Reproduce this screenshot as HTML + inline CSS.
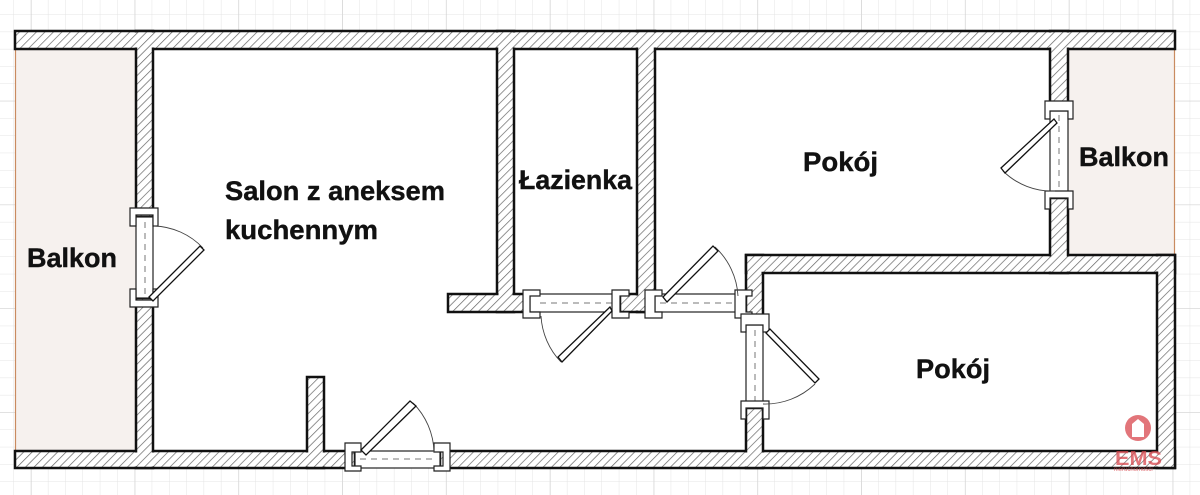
<!DOCTYPE html>
<html><head><meta charset="utf-8"><style>
html,body{margin:0;padding:0;background:#fff;}
svg{display:block;}
text{font-family:"Liberation Sans",sans-serif;font-weight:bold;font-size:27px;fill:#111;stroke:#111;stroke-width:0.4;}
</style></head><body>
<svg width="1200" height="495" viewBox="0 0 1200 495" xmlns="http://www.w3.org/2000/svg">
<defs>
<pattern id="g" width="17.3" height="17.3" patternUnits="userSpaceOnUse" x="-4" y="-3">
<path d="M0 0H17.3M0 0V17.3" stroke="#e4e4e4" stroke-width="1" fill="none"/>
</pattern>
<pattern id="G" width="103.8" height="103.8" patternUnits="userSpaceOnUse" x="31" y="-3">
<path d="M0 0H103.8M0 0V103.8" stroke="#cfcfcf" stroke-width="1" fill="none"/>
</pattern>
<pattern id="h" width="6" height="6" patternUnits="userSpaceOnUse" patternTransform="rotate(45)">
<rect width="6" height="6" fill="#fff"/>
<line x1="0" y1="0" x2="0" y2="6" stroke="#666" stroke-width="1.4"/>
</pattern>
</defs>
<rect width="1200" height="495" fill="url(#g)"/>
<rect width="1200" height="495" fill="url(#G)"/>
<rect x="15" y="31" width="1160" height="437" fill="#fff"/>
<rect x="15" y="49" width="121" height="402" fill="#f6f1ee"/>
<line x1="15.5" y1="49" x2="15.5" y2="451" stroke="#c98b60" stroke-width="1.2"/>
<rect x="1068" y="49" width="107" height="206" fill="#f6f1ee"/>
<line x1="1174.5" y1="49" x2="1174.5" y2="255" stroke="#c98b60" stroke-width="1.2"/>

<g stroke="#111" stroke-width="2.5" fill="url(#h)">
<rect x="15" y="31" width="1160" height="18"/>
<rect x="15" y="451" width="340" height="17"/>
<rect x="440" y="451" width="735" height="17"/>
<rect x="136" y="31" width="17" height="186"/>
<rect x="136" y="298" width="17" height="170"/>
<rect x="307" y="377" width="17" height="91"/>
<rect x="497" y="31" width="17" height="281"/>
<rect x="448" y="294" width="82" height="18"/>
<rect x="620" y="294" width="35" height="18"/>
<rect x="637" y="31" width="18" height="281"/>
<rect x="746" y="255" width="17" height="70"/>
<rect x="746" y="255" width="429" height="18"/>
<rect x="746" y="408" width="17" height="60"/>
<rect x="1157" y="255" width="18" height="213"/>
<rect x="1050" y="31" width="18" height="80"/>
<rect x="1050" y="198" width="18" height="75"/>
</g>
<g fill="url(#h)">
<rect x="16.5" y="32.5" width="1157" height="15"/>
<rect x="16.5" y="452.5" width="337" height="14"/>
<rect x="441.5" y="452.5" width="732" height="14"/>
<rect x="137.5" y="32.5" width="14" height="183"/>
<rect x="137.5" y="299.5" width="14" height="167"/>
<rect x="308.5" y="378.5" width="14" height="88"/>
<rect x="498.5" y="32.5" width="14" height="278"/>
<rect x="449.5" y="295.5" width="79" height="15"/>
<rect x="621.5" y="295.5" width="32" height="15"/>
<rect x="638.5" y="32.5" width="15" height="278"/>
<rect x="747.5" y="256.5" width="14" height="67"/>
<rect x="747.5" y="256.5" width="426" height="15"/>
<rect x="747.5" y="409.5" width="14" height="57"/>
<rect x="1158.5" y="256.5" width="15" height="210"/>
<rect x="1051.5" y="32.5" width="15" height="77"/>
<rect x="1051.5" y="199.5" width="15" height="72"/>
</g>

<g stroke="#222" stroke-width="1.2" fill="#fff">
<rect x="136" y="217" width="17" height="81"/>
<rect x="355" y="451" width="85" height="17"/>
<rect x="530" y="294" width="90" height="18"/>
<rect x="655" y="294" width="91" height="18"/>
<rect x="746" y="325" width="17" height="83"/>
<rect x="1050" y="111" width="18" height="87"/>
</g>
<g stroke="#777" stroke-width="1" stroke-dasharray="6,5" fill="none">
<line x1="145" y1="222" x2="145" y2="294"/>
<line x1="360" y1="459" x2="436" y2="459"/>
<line x1="540" y1="303" x2="612" y2="303"/>
<line x1="660" y1="303" x2="742" y2="303"/>
<line x1="755" y1="330" x2="755" y2="404"/>
<line x1="1059" y1="115" x2="1059" y2="194"/>
</g>
<!-- jambs (U shapes) -->
<g stroke="#222" stroke-width="1.2" fill="#fff">
<path d="M130 208H158V226H153V215H136V226H130Z"/>
<path d="M130 307H158V289H153V300H136V289H130Z"/>
<path d="M345 443V471H361V466H352V452H361V443Z"/>
<path d="M450 443V471H434V466H443V452H434V443Z"/>
<path d="M540 290H523V318H540V312H530V296H540Z"/>
<path d="M612 290H629V296H620V312H629V318H612Z"/>
<path d="M662 290H645V318H662V312H655V296H662Z"/>
<path d="M735 290H752V296H746V312H752V318H735Z"/>
<path d="M741 332V314H769V332H763V325H746V332Z"/>
<path d="M741 401V419H746V408H763V419H769V401Z"/>
<path d="M1045 119V101H1073V119H1068V111H1050V119Z"/>
<path d="M1045 191V209H1050V198H1068V209H1073V191Z"/>
</g>
<g stroke="#444" stroke-width="0.9" fill="none">
<path d="M154 226 A70 70 0 0 1 203 248"/>
<path d="M434 452 A72 72 0 0 0 413 403"/>
<path d="M541 316 A72 72 0 0 0 561 362"/>
<path d="M738 296 A72 72 0 0 0 715 247"/>
<path d="M763 404 A72 72 0 0 0 815 384"/>
<path d="M1055 191 A70 70 0 0 1 1003 171"/>
</g>
<g stroke="#111" stroke-width="1.3" fill="#fff">
<polygon points="149,297 200,246 204,250 153,301"/>
<polygon points="361,450 410,401 416,406 366,455"/>
<polygon points="610,307 612,311 562,362 558,357"/>
<polygon points="663,297 713,246 718,251 667,302"/>
<polygon points="766,333 770,329 819,379 815,383"/>
<polygon points="1054,119 1057,123 1005,173 1001,168"/>
</g>

<text x="225" y="200" textLength="220" lengthAdjust="spacingAndGlyphs">Salon z aneksem</text>
<text x="225" y="239" textLength="153" lengthAdjust="spacingAndGlyphs">kuchennym</text>
<text x="519" y="189" textLength="113" lengthAdjust="spacingAndGlyphs">Łazienka</text>
<text x="803" y="171" textLength="75" lengthAdjust="spacingAndGlyphs">Pokój</text>
<text x="1079" y="166" textLength="90" lengthAdjust="spacingAndGlyphs">Balkon</text>
<text x="27" y="267" textLength="90" lengthAdjust="spacingAndGlyphs">Balkon</text>
<text x="916" y="378" textLength="74" lengthAdjust="spacingAndGlyphs">Pokój</text>

<g opacity="0.75">
<circle cx="1138" cy="428" r="13" fill="#d9484e"/>
<path d="M1132 437 V424 L1138 419 L1144 424 V437 Z" fill="#fff"/>
<text x="1115" y="465" style="font-size:20px;fill:#d9484e;stroke:none" textLength="47" lengthAdjust="spacingAndGlyphs">EMS</text>
<text x="1114" y="471" style="font-size:6px;font-weight:normal;fill:#d9484e;stroke:none">nieruchomości</text>
</g>
</svg>
</body></html>
